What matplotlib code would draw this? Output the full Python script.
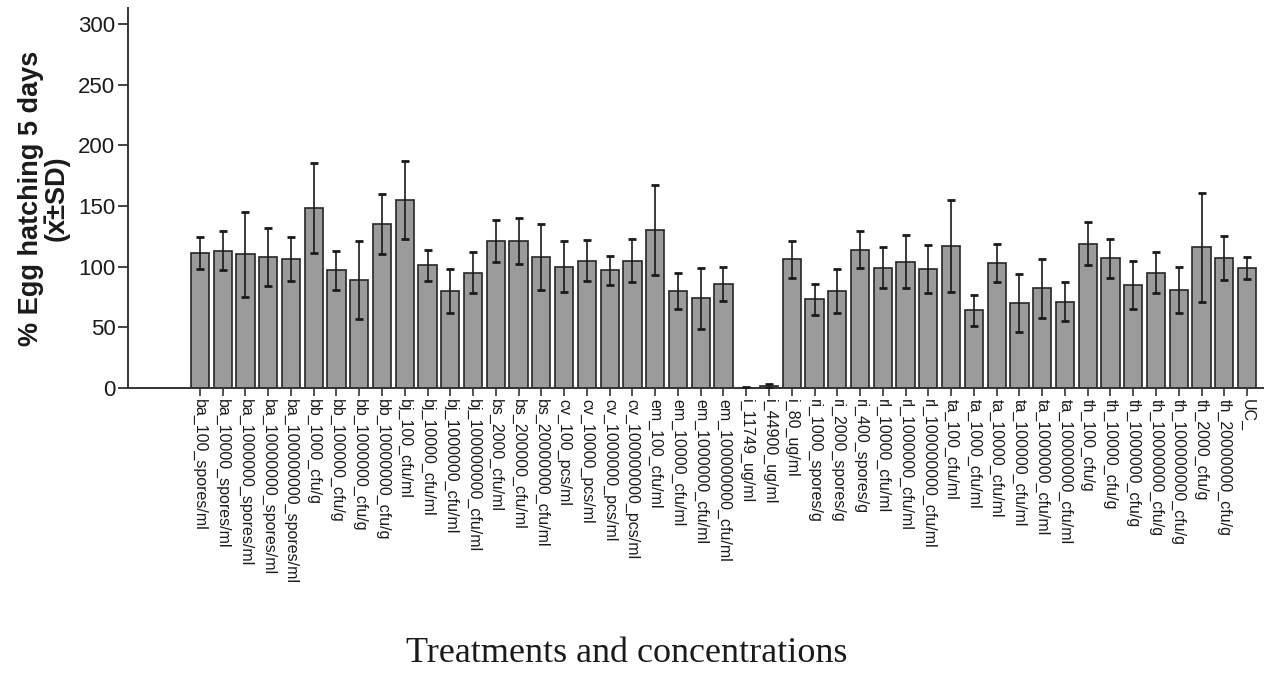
import matplotlib
matplotlib.use("Agg")
import matplotlib.pyplot as plt
import numpy as np

treatments = [
    "ba_100_spores/ml", "ba_10000_spores/ml", "ba_1000000_spores/ml",
    "ba_10000000_spores/ml", "ba_100000000_spores/ml",
    "bb_1000_cfu/g", "bb_100000_cfu/g", "bb_1000000_cfu/g", "bb_10000000_cfu/g",
    "bj_100_cfu/ml", "bj_10000_cfu/ml", "bj_1000000_cfu/ml", "bj_100000000_cfu/ml",
    "bs_2000_cfu/ml", "bs_200000_cfu/ml", "bs_20000000_cfu/ml",
    "cv_100_pcs/ml", "cv_10000_pcs/ml", "cv_1000000_pcs/ml", "cv_100000000_pcs/ml",
    "em_100_cfu/ml", "em_10000_cfu/ml", "em_1000000_cfu/ml", "em_100000000_cfu/ml",
    "i_11749_ug/ml", "i_44900_ug/ml", "i_80_ug/ml",
    "ri_1000_spores/g", "ri_2000_spores/g", "ri_400_spores/g",
    "rl_10000_cfu/ml", "rl_1000000_cfu/ml", "rl_100000000_cfu/ml",
    "ta_100_cfu/ml", "ta_1000_cfu/ml", "ta_10000_cfu/ml", "ta_100000_cfu/ml",
    "ta_1000000_cfu/ml", "ta_10000000_cfu/ml",
    "th_100_cfu/g", "th_10000_cfu/g", "th_1000000_cfu/g", "th_10000000_cfu/g",
    "th_100000000_cfu/g", "th_2000_cfu/g", "th_20000000_cfu/g",
    "UC_",
]

hatching_mean = [
    111, 113, 110, 108, 106,
    148, 97, 89, 135,
    155, 101, 80, 95,
    121, 121, 108,
    100, 105, 97, 105,
    130, 80, 74, 86,
    0.3, 1.5, 106,
    73, 80, 114,
    99, 104, 98,
    117, 64, 103, 70, 82, 71,
    119, 107, 85, 95, 81, 116, 107,
    99,
]

hatching_sd = [
    13, 16, 35, 24, 18,
    37, 16, 32, 25,
    32, 13, 18, 17,
    17, 19, 27,
    21, 17, 12, 18,
    37, 15, 25, 14,
    0.3, 1.5, 15,
    13, 18, 15,
    17, 22, 20,
    38, 13, 16, 24, 24, 16,
    18, 16, 20, 17, 19, 45, 18,
    9,
]

y_ticks = [0, 50, 100, 150, 200, 250, 300]

fig = plt.figure(figsize=(12.72, 6.73), dpi=100)
ax = fig.add_axes([0.1006, 0.4235, 0.8923, 0.5645])

x = np.arange(len(treatments))
ax.bar(x, hatching_mean, width=0.8, color="#9b9b9b", edgecolor="#262626",
       linewidth=1.2, zorder=2)
ax.errorbar(x, hatching_mean, yerr=hatching_sd, fmt="none", ecolor="#1a1a1a",
            elinewidth=1.2, capsize=2.8, capthick=2.0, zorder=3)

ax.set_xlim(-3.16, 46.7)
ax.set_ylim(0, 313)
ax.set_yticks(y_ticks)
ax.set_yticklabels([str(v) for v in y_ticks], fontsize=16,
                   family="Liberation Sans", color="#1a1a1a")
ax.set_xticks(x)
ax.set_xticklabels(treatments, rotation=-90, fontsize=11.5,
                   family="Liberation Sans", color="#1a1a1a",
                   va="top", ha="center")

for side in ("top", "right"):
    ax.spines[side].set_visible(False)
for side in ("left", "bottom"):
    ax.spines[side].set_linewidth(1.4)
    ax.spines[side].set_color("#333333")

ax.tick_params(axis="y", direction="out", length=7, width=1.3,
               colors="#333333", pad=2)
ax.tick_params(axis="x", direction="out", length=6, width=1.2,
               colors="#333333", pad=2)
for lbl in ax.get_xticklabels() + ax.get_yticklabels():
    lbl.set_color("#1a1a1a")

ax.set_ylabel("% Egg hatching 5 days\n(x\u0304\u00b1SD)", fontsize=19.5,
              fontweight="bold", family="Liberation Sans", linespacing=0.95,
              labelpad=6, color="#1a1a1a")

fig.text(627 / 1272, 1 - 653 / 673, "Treatments and concentrations",
         fontsize=26, family="Liberation Serif", ha="center", va="center",
         color="#1a1a1a")

fig.savefig("out.png", dpi=100)
